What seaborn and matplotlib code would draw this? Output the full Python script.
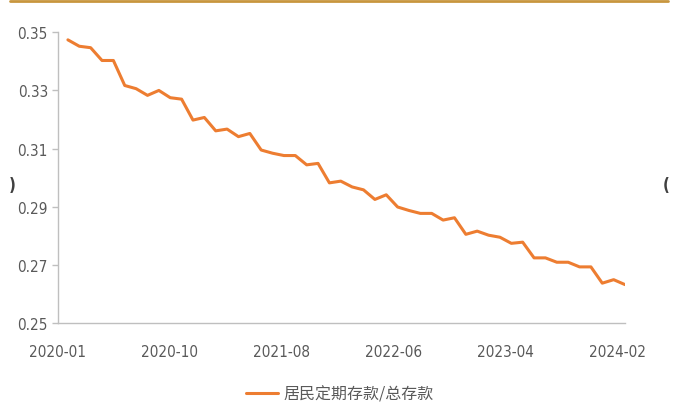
import numpy as np
import pandas as pd
import matplotlib.pyplot as plt
import seaborn as sns
from matplotlib.lines import Line2D

# monthly ratio, 2020-01 .. 2024-02
months = pd.date_range("2020-01-01", "2024-02-01", freq="MS").strftime("%Y-%m").tolist()
ratio = [
    0.3474, 0.3452, 0.3447, 0.3403, 0.3403, 0.3317, 0.3306, 0.3283, 0.3300, 0.3275,
    0.3270, 0.3198, 0.3207, 0.3161, 0.3167, 0.3141, 0.3152, 0.3095, 0.3084, 0.3076,
    0.3076, 0.3044, 0.3049, 0.2982, 0.2988, 0.2968, 0.2958, 0.2925, 0.2941, 0.2899,
    0.2887, 0.2877, 0.2877, 0.2854, 0.2862, 0.2805, 0.2816, 0.2802, 0.2795, 0.2774,
    0.2778, 0.2724, 0.2724, 0.2709, 0.2709, 0.2693, 0.2693, 0.2637, 0.2649, 0.2632,
]
tick_labels = ["2020-01", "2020-10", "2021-08", "2022-06", "2023-04", "2024-02"]
series_name = "居民定期存款/总存款"

df = pd.DataFrame({"idx": np.arange(len(months)), "month": months, "ratio": ratio})

sns.set_theme(style="white")
plt.rcParams["font.family"] = ["DejaVu Sans", "Noto Sans CJK SC"]
plt.rcParams["font.stretch"] = "condensed"

fig = plt.figure(figsize=(6.73, 4.06), dpi=100)
ax = fig.add_axes([0.0857, 0.202, 0.843, 0.716])

sns.lineplot(data=df, x="idx", y="ratio", ax=ax, color="#ED7D31", linewidth=2.2,
             label=series_name)

ax.set_xlim(-0.9, len(months) - 1)
ax.set_ylim(0.25, 0.35)
yt = np.arange(0.25, 0.3501, 0.02)
ax.set_yticks(yt)
ax.set_yticklabels([f"{v:.2f}" for v in yt])
ax.set_xticks(np.linspace(-0.9, 48.3, len(tick_labels)))
ax.set_xticklabels(tick_labels)
ax.set_xlabel("")
ax.set_ylabel("")

for side in ["top", "right"]:
    ax.spines[side].set_visible(False)
for side in ["left", "bottom"]:
    ax.spines[side].set_color("#BFBFBF")
    ax.spines[side].set_linewidth(1.0)

ax.tick_params(axis="y", which="both", left=True, length=4, width=1, color="#BFBFBF",
               labelsize=11, labelcolor="#595959", pad=3)
ax.tick_params(axis="x", which="both", bottom=False, labelsize=11, labelcolor="#595959", pad=9)

leg = ax.legend(loc="center", bbox_to_anchor=(0.505, 0.027), bbox_transform=fig.transFigure,
                frameon=False, handlelength=2.0, handletextpad=0.3, fontsize=11.5)
for t in leg.get_texts():
    t.set_color("#595959")
    t.set_family(["Noto Sans CJK SC", "DejaVu Sans"])

# gold rule at top and cropped bracket fragments at the edges
fig.add_artist(Line2D([10 / 673, 668 / 673], [1 - 2 / 406, 1 - 2 / 406],
                      color="#C8963E", linewidth=2.0))
fig.text(12 / 673, 1 - 186 / 406, ")", fontsize=12, color="#404040", fontweight="bold",
         ha="center", va="center")
fig.text(666 / 673, 1 - 186 / 406, "(", fontsize=12, color="#404040", fontweight="bold",
         ha="center", va="center")

fig.savefig("out.png", dpi=100, facecolor="white")
